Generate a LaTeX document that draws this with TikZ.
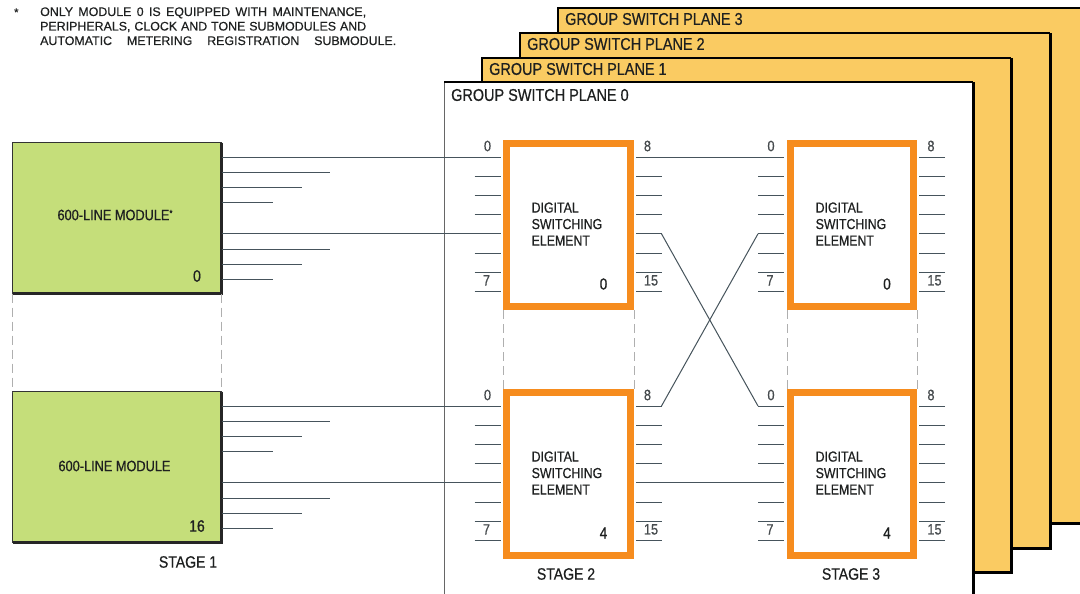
\documentclass[tikz,border=0pt]{standalone}
\usepackage{fontspec}
\setmainfont{Liberation Sans}[FakeStretch=0.85, FakeBold=0.5]
\newfontfamily\widefont{Liberation Sans}[FakeBold=0.4]
\usetikzlibrary{calc}
\definecolor{modgreen}{RGB}{197,222,122}
\definecolor{planey}{RGB}{250,203,98}
\definecolor{dseorange}{RGB}{246,140,30}
\definecolor{wirec}{RGB}{70,84,92}
\definecolor{txt}{RGB}{30,32,32}
\definecolor{pintxt}{RGB}{70,75,78}
\definecolor{dashc}{RGB}{175,175,175}
\tikzset{
  fs/.style={font=\fontsize{#1}{#1}\selectfont},
  planeline/.style={draw=black, line width=1.2pt},
  planeedge/.style={draw=black, line width=3pt},
  module/.style={draw=black!80, fill=modgreen, line width=1pt, minimum width=209pt,
    minimum height=151pt, inner sep=0pt, outer sep=0pt},
  dse/.style={draw=dseorange, fill=white, line width=7pt, minimum height=163pt,
    inner sep=0pt, outer sep=0pt},
  wire/.style={draw=wirec, line width=1pt},
  pinline/.style={draw=wirec, line width=1pt},
  guide/.style={draw=dashc, line width=0.6pt, dash pattern=on 9pt off 5pt},
  lbl/.style={text=txt, inner sep=0pt},
  fnote/.style={text=txt, inner sep=0pt, anchor=base west, font=\widefont\fontsize{12.4}{12.4}\selectfont},
  pinlbl/.style={text=pintxt, inner sep=0pt, font=\fontsize{15}{15}\selectfont},
  dsetext/.style={text=txt, inner sep=0pt, anchor=west, align=left,
    font=\fontsize{14.5}{16.5}\selectfont},
}
\begin{document}
\begin{tikzpicture}[x=1pt,y=-1pt]
\useasboundingbox (0,0) rectangle (1080,594);
\clip (0,0) rectangle (1080,594);
\fill[white] (0,0) rectangle (1080,594);

% group switch planes 3..1 (yellow) and 0 (white)
\foreach \k/\L/\T/\R/\B in {3/558/8/1089/523, 2/520/33/1050/548, 1/482/58/1011/572}{
  \fill[planey] (\L,\T) rectangle (\R,\B);
  \draw[planeline] (\L,\B) -- (\L,\T) -- (\R,\T);
  \draw[planeedge] (\R,\T) -- (\R,\B) -- (\L,\B);
  \node[lbl, anchor=west, fs=17] (pl\k) at (\L+7,\T+11) {GROUP SWITCH PLANE \k};
}
\fill[white] (444,82) rectangle (973,600);
\draw[draw=black!60, line width=0.8pt] (444,600) -- (444,82);
\draw[planeline] (444,82) -- (973,82);
\draw[planeedge] (973,82) -- (973,600);
\node[lbl, anchor=west, fs=17] (pl0) at (451,95) {GROUP SWITCH PLANE 0};

% footnote
\node[fnote, font=\widefont\fontsize{11}{11}\selectfont] (star) at (14,16) {*};
\node[fnote] (fn1) at (40,16)
  {\hbox to 326pt{ONLY MODULE 0 IS EQUIPPED WITH MAINTENANCE,}};
\node[fnote] (fn2) at (40,30.5)
  {\hbox to 326pt{PERIPHERALS, CLOCK AND TONE SUBMODULES AND}};
\node[fnote] (fn3) at (40,45)
  {\hbox to 356pt{AUTOMATIC\hfill METERING\hfill REGISTRATION\hfill SUBMODULE.}};

% modules (stage 1)
\node[module] (m0) at (117,218) {};
\node[module] (m16) at (117,467) {};
\foreach \m in {m0,m16}{
  \draw[black!85, line width=2.5pt] (\m.north east) -- (\m.south east) -- (\m.south west);
}
\node[lbl, fs=15] (m0t) at (115,215) {600-LINE MODULE\raisebox{4pt}{\fontsize{9}{9}\selectfont *}};
\node[lbl, fs=15] (m16t) at (114.5,466) {600-LINE MODULE};
\node[lbl, fs=16.5] (m0n) at (197,276) {0};
\node[lbl, fs=16.5] (m16n) at (197,526) {16};
\draw[guide] (m0.south west) -- (m16.north west);
\draw[guide] (m0.south east) -- (m16.north east);
\node[lbl, fs=16.5] (st1) at (188,562) {STAGE 1};

% digital switching elements
\node[dse, minimum width=124pt] (a0) at (568.5,225) {};
\node[dse, minimum width=124pt] (a4) at (568.5,474) {};
\node[dse, minimum width=123pt] (b0) at (852,225) {};
\node[dse, minimum width=123pt] (b4) at (852,474) {};
\foreach \n in {a0,a4,b0,b4}{
  \node[dsetext] at ($(\n.west)+(25,-1)$) {DIGITAL\\SWITCHING\\ELEMENT};
}
\draw[guide] ($(a0.south west)+(-3.5,3.5)$) -- ($(a4.north west)+(-3.5,-3.5)$);
\draw[guide] ($(a0.south east)+(3.5,3.5)$) -- ($(a4.north east)+(3.5,-3.5)$);
\draw[guide] ($(b0.south west)+(-3.5,3.5)$) -- ($(b4.north west)+(-3.5,-3.5)$);
\draw[guide] ($(b0.south east)+(3.5,3.5)$) -- ($(b4.north east)+(3.5,-3.5)$);
\node[lbl, fs=16] (a0n) at (603.5,284) {0};
\node[lbl, fs=16] (a4n) at (603.5,533) {4};
\node[lbl, fs=16] (b0n) at (887,284) {0};
\node[lbl, fs=16] (b4n) at (887,533) {4};
\node[lbl, fs=16.5] (st2) at (566,574) {STAGE 2};
\node[lbl, fs=16.5] (st3) at (851,574) {STAGE 3};

% pins
\foreach \n/\L/\R/\C in {a0/503.5/633.5/225, a4/503.5/633.5/474, b0/787/917/225, b4/787/917/474}{
  \foreach \i in {0,...,7}{
    \pgfmathsetmacro\yy{\C-68+19.2*\i}
    \coordinate (\n-l\i) at (\L-29,\yy);
    \coordinate (\n-r\i) at (\R+28,\yy);
    \draw[pinline] (\n-l\i) -- ++(26,0);
    \draw[pinline] (\n-r\i) -- ++(-26,0);
  }
  \node[pinlbl] at (\L-16,\C-79) {0};
  \node[pinlbl] at (\L-17,\C+55.4) {7};
  \node[pinlbl] at (\R+14,\C-79) {8};
  \node[pinlbl] at (\R+17.5,\C+55.4) {15};
}

% module wires
\foreach \m/\d in {m0/a0, m16/a4}{
  \draw[wire] (\m.east |- \d-l0) -- (\d-l0);
  \draw[wire] (\m.east |- \d-l4) -- (\d-l4);
  \foreach \p in {l0,l4}{
    \foreach \dy/\len in {15.2/108, 30.4/80, 45.6/51}{
      \draw[wire] ($(\m.east |- \d-\p)+(0,\dy)$) -- ++(\len,0);
    }
  }
}

% inter-stage wires
\draw[wire] (a0-r0) -- (b0-l0);
\draw[wire] (a0-r4) -- (b4-l0);
\draw[wire] (a4-r0) -- (b0-l4);
\draw[wire] (a4-r4) -- (b4-l4);
\end{tikzpicture}
\end{document}
